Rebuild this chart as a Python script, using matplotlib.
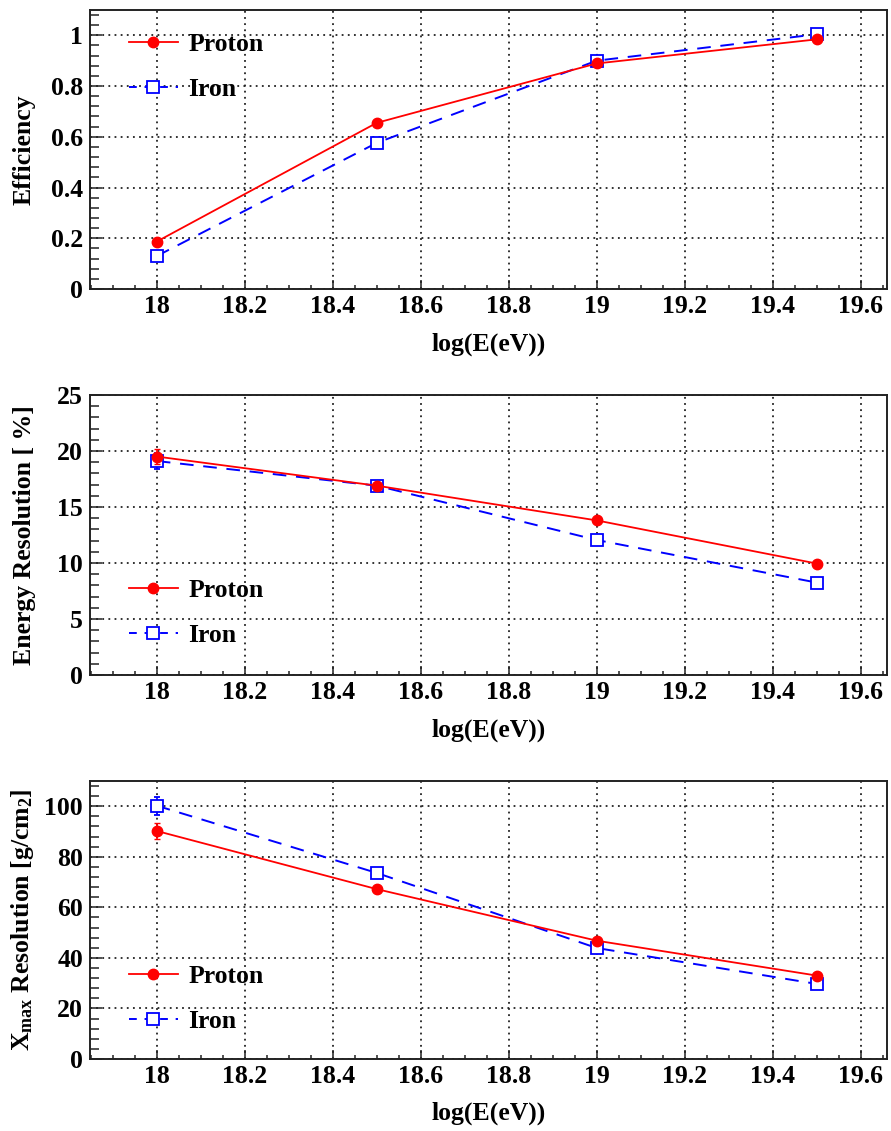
#! /usr/bin/env python3
# efficiency / energy resolution / Xmax resolution vs log(E) for proton and iron

import numpy as np
import matplotlib
matplotlib.use('Agg')
import matplotlib.pyplot as plt
from matplotlib.ticker import MultipleLocator, FormatStrFormatter

plt.rcParams['font.family'] = ['Liberation Serif', 'DejaVu Serif']
plt.rcParams['font.weight'] = 'bold'
plt.rcParams['mathtext.fontset'] = 'custom'
plt.rcParams['mathtext.rm'] = 'Liberation Serif'
plt.rcParams['mathtext.it'] = 'Liberation Serif:italic'
plt.rcParams['mathtext.bf'] = 'Liberation Serif:bold'

# data
energy = [18.0, 18.5, 19.0, 19.5]

eff_proton = [0.187, 0.655, 0.889, 0.984]
eff_iron = [0.130, 0.576, 0.900, 1.004]

eres_proton = [19.5, 16.9, 13.8, 9.95]
eres_proton_err = [0.7, 0.25, 0.2, 0.2]
eres_iron = [19.1, 16.9, 12.05, 8.25]
eres_iron_err = [0.7, 0.25, 0.2, 0.2]

xres_proton = [90.2, 67.2, 46.8, 33.0]
xres_proton_err = [3.0, 1.0, 1.0, 0.8]
xres_iron = [100.2, 73.6, 43.9, 29.7]
xres_iron_err = [3.5, 1.2, 1.0, 0.8]

ylabels = ['Efficiency', 'Energy Resolution [ %]',
           r'X$_{\rm max}$ Resolution [g/cm$_{\rm 2}$]']
ylims = [(0, 1.1), (0, 25), (0, 110)]
ymajor = [0.2, 5, 20]
yminor = [0.04, 1, 4]

panels = [
    (eff_proton, None, eff_iron, None),
    (eres_proton, eres_proton_err, eres_iron, eres_iron_err),
    (xres_proton, xres_proton_err, xres_iron, xres_iron_err),
]

# axes rectangles (left, bottom, width, height) in figure fraction
rects = [(0.101, 0.7445, 0.8945, 0.2467),
         (0.101, 0.4032, 0.8945, 0.2476),
         (0.101, 0.0637, 0.8945, 0.2458)]
legend_top = [0.917, 0.342, 0.337]

FS = 18.5
red = '#ff0000'
blue = '#0000ff'

fig = plt.figure(figsize=(8.91, 11.31), dpi=100)

for i in range(3):
    ax = fig.add_axes(rects[i])
    p, perr, fe, feerr = panels[i]

    ax.errorbar(energy, p, yerr=perr, color=red, lw=1.3, marker='o', ms=7.5,
                mec=red, mfc=red, capsize=2.5, elinewidth=1.2, label='Proton', zorder=4)
    ax.errorbar(energy, fe, yerr=feerr, color=blue, lw=1.4, ls=(0, (7, 5)), marker='s', ms=8,
                mec=blue, mfc='white', mew=1.3, capsize=2.5, elinewidth=1.2, label='Iron', zorder=3)

    ax.set_xlim(17.848, 19.66)
    ax.set_ylim(*ylims[i])
    ax.xaxis.set_major_locator(MultipleLocator(0.2))
    ax.xaxis.set_minor_locator(MultipleLocator(0.05))
    ax.xaxis.set_major_formatter(FormatStrFormatter('%g'))
    ax.yaxis.set_major_locator(MultipleLocator(ymajor[i]))
    ax.yaxis.set_minor_locator(MultipleLocator(yminor[i]))
    ax.yaxis.set_major_formatter(FormatStrFormatter('%g'))

    ax.grid(True, which='major', color='#222222', lw=1.3, ls=(0, (1, 2.4)))
    ax.set_axisbelow(True)

    ax.tick_params(axis='both', which='both', direction='in', labelsize=FS, width=1.1,
                   top=False, right=False, color='#222222')
    ax.tick_params(axis='x', which='major', length=6.5, pad=4.5)
    ax.tick_params(axis='x', which='minor', length=3)
    ax.tick_params(axis='y', which='major', length=8.6, pad=5)
    ax.tick_params(axis='y', which='minor', length=6.5)
    for lab in ax.get_xticklabels() + ax.get_yticklabels():
        lab.set_fontweight('bold')

    for s in ax.spines.values():
        s.set_linewidth(1.4)
        s.set_color('#222222')

    ax.set_xlabel('log(E(eV))', fontsize=FS, fontweight='bold', va='top')
    ax.xaxis.set_label_coords(0.5, -0.155)
    ax.set_ylabel(ylabels[i], fontsize=FS, fontweight='bold')
    ax.yaxis.set_label_coords(-0.068, 0.5)

    # legend without error bars, ROOT style
    h1 = plt.Line2D([], [], color=red, lw=1.3, marker='o', ms=7.5, mfc=red, mec=red)
    h2 = plt.Line2D([], [], color=blue, lw=1.4, ls=(0, (4, 4)), marker='s', ms=8,
                    mfc='white', mec=blue, mew=1.3)
    ax.legend([h1, h2], ['Proton', 'Iron'], loc='upper left',
              bbox_to_anchor=(0.049, legend_top[i]), frameon=False, borderpad=0,
              borderaxespad=0, handlelength=1.9, handletextpad=0.4, labelspacing=0.85,
              numpoints=1, prop={'size': FS, 'weight': 'bold'})

plt.savefig('out.png', dpi=100)
